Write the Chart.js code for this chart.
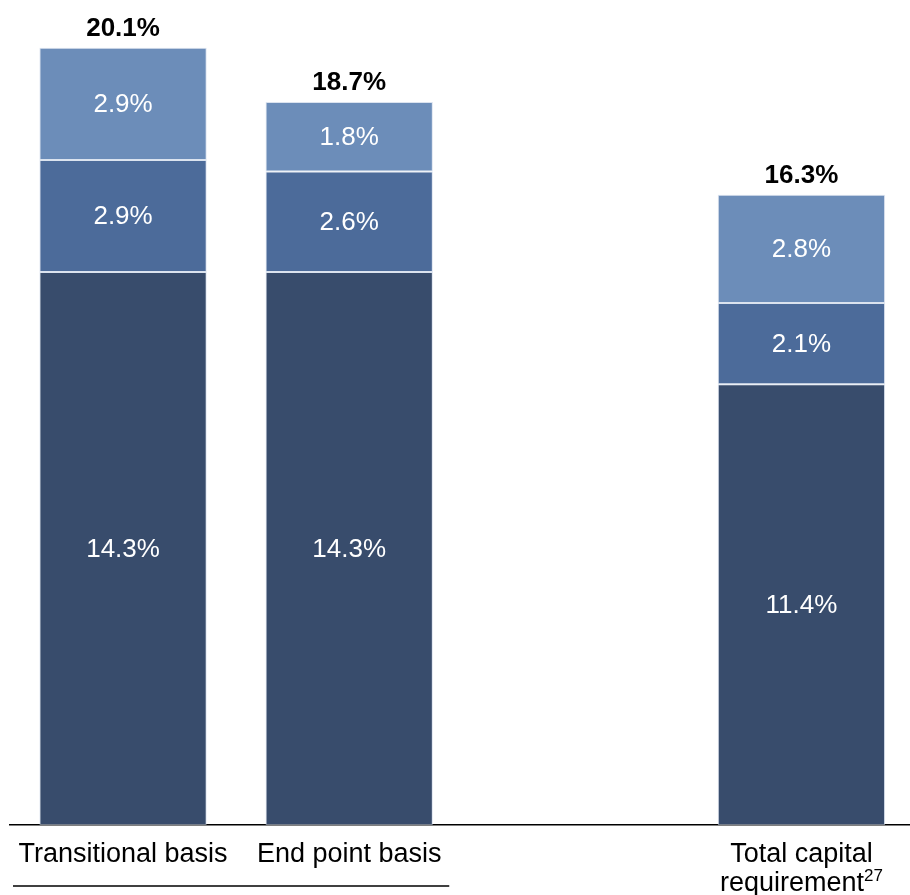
<!DOCTYPE html>
<html>
<head>
<meta charset="utf-8">
<script src="https://cdn.jsdelivr.net/npm/chart.js@4.4.0/dist/chart.umd.min.js"></script>
<style>
  html, body { margin: 0; padding: 0; background: #fff; overflow: hidden; }
  #wrap { position: relative; width: 916px; height: 895px; }
</style>
</head>
<body>
<div id="wrap"><canvas id="capChart"></canvas></div>
<script>
// categories (third slot is an intentional gap)
const categories = ['Transitional basis', 'End point basis', '', ['Total capital', 'requirement']];
const footnotes  = ['', '', '', '27'];

// stacked components, bottom to top
const baseVals = [14.3, 14.3, null, 11.4];
const midVals  = [2.9, 2.6, null, 2.1];
const topVals  = [2.9, 1.8, null, 2.8];
const totals   = [20.1, 18.7, null, 16.3];

const FONT = "'Liberation Sans', Arial, sans-serif";
const colors = { base: '#384c6c', mid: '#4c6b9a', top: '#6c8db9' };

const segmentLabels = {
  id: 'segmentLabels',
  afterDatasetsDraw(chart) {
    const ctx = chart.ctx;
    ctx.save();
    ctx.textAlign = 'center';
    ctx.textBaseline = 'middle';
    ctx.fillStyle = '#ffffff';
    ctx.font = '26px ' + FONT;
    chart.data.datasets.forEach((ds, di) => {
      chart.getDatasetMeta(di).data.forEach((bar, i) => {
        const v = ds.data[i];
        if (v == null) return;
        ctx.fillText(v.toFixed(1) + '%', bar.x, (bar.y + bar.base) / 2 + 1);
      });
    });
    // totals above each stack
    const lastMeta = chart.getDatasetMeta(chart.data.datasets.length - 1);
    ctx.fillStyle = '#000000';
    ctx.font = 'bold 26px ' + FONT;
    totals.forEach((t, i) => {
      if (t == null) return;
      const bar = lastMeta.data[i];
      ctx.fillText(t.toFixed(1) + '%', bar.x, bar.y - 19);
    });
    ctx.restore();
  }
};

const categoryLabels = {
  id: 'categoryLabels',
  afterDraw(chart) {
    const ctx = chart.ctx;
    const x = chart.scales.x;
    const bottom = chart.chartArea.bottom;
    ctx.save();
    ctx.fillStyle = '#000000';
    ctx.textBaseline = 'alphabetic';
    categories.forEach((lab, i) => {
      const lines = Array.isArray(lab) ? lab : [lab];
      const cx = x.getPixelForValue(i);
      lines.forEach((line, li) => {
        const y = bottom + 37 + li * 29;
        const isLast = li === lines.length - 1;
        const note = isLast ? footnotes[i] : '';
        ctx.font = '27px ' + FONT;
        const w = ctx.measureText(line).width;
        ctx.font = '17px ' + FONT;
        const nw = note ? ctx.measureText(note).width : 0;
        const left = cx - (w + nw) / 2;
        ctx.textAlign = 'left';
        ctx.font = '27px ' + FONT;
        ctx.fillText(line, left, y);
        if (note) {
          ctx.font = '17px ' + FONT;
          ctx.fillText(note, left + w, y - 10);
        }
      });
    });
    // rule under the first two categories
    const slot = x.getPixelForValue(1) - x.getPixelForValue(0);
    ctx.strokeStyle = '#000000';
    ctx.lineWidth = 1.5;
    ctx.beginPath();
    ctx.moveTo(x.getPixelForValue(0) - slot / 2 + 3, bottom + 61);
    ctx.lineTo(x.getPixelForValue(1) + slot / 2 - 13, bottom + 61);
    ctx.stroke();
    ctx.restore();
  }
};

const barStyle = {
  borderWidth: 1,
  borderColor: 'rgba(195,208,228,0.6)',
  borderSkipped: false,
  categoryPercentage: 1.0,
  barPercentage: 0.74
};

new Chart(document.getElementById('capChart').getContext('2d'), {
  type: 'bar',
  data: {
    labels: categories,
    datasets: [
      Object.assign({ label: 'Base', data: baseVals, backgroundColor: colors.base }, barStyle),
      Object.assign({ label: 'Mid',  data: midVals,  backgroundColor: colors.mid },  barStyle),
      Object.assign({ label: 'Top',  data: topVals,  backgroundColor: colors.top },  barStyle)
    ]
  },
  options: {
    responsive: true,
    maintainAspectRatio: false,
    animation: false,
    layout: { padding: { left: 10, right: 1.5, top: 13, bottom: 62 } },
    plugins: {
      legend: { display: false },
      tooltip: { enabled: false }
    },
    scales: {
      x: {
        stacked: true,
        grid: { display: false },
        ticks: { display: false },
        border: { display: true, color: '#000000', width: 1.5 }
      },
      y: {
        stacked: true,
        min: 0,
        max: 21,
        display: false
      }
    }
  },
  plugins: [segmentLabels, categoryLabels]
});
</script>
</body>
</html>
